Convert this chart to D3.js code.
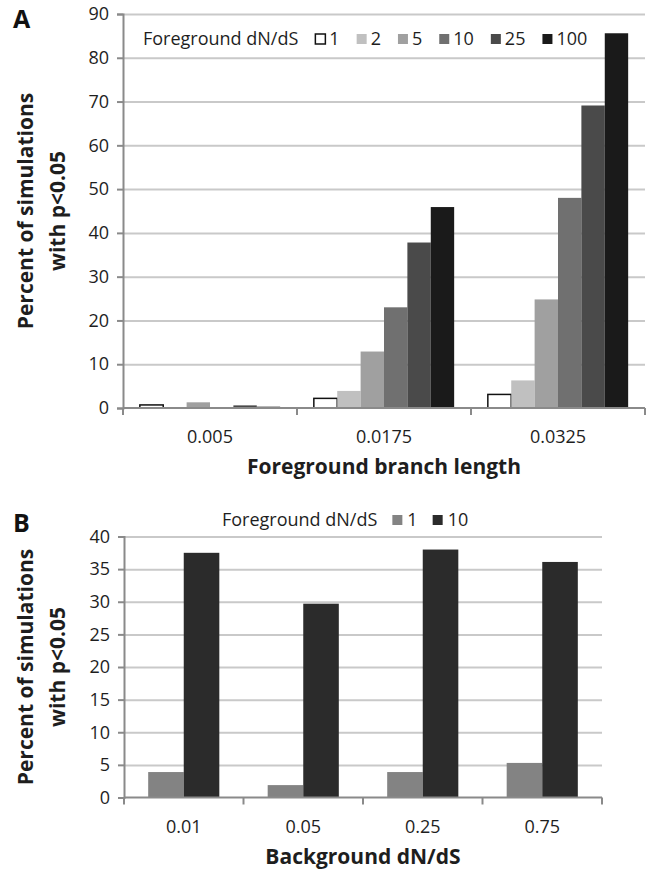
<!DOCTYPE html>
<html>
<head>
<meta charset="utf-8">
<script src="https://cdn.jsdelivr.net/npm/d3@7"></script>
<style>
  body { margin: 0; background: #fff; }
  svg { display: block; font-family: "Open Sans", sans-serif; }
</style>
</head>
<body>
<div id="chart"></div>
<script>
// panel A: foreground branch length vs % significant
var branchLengths = ['0.005', '0.0175', '0.0325'];
var fgRatiosA = ['1', '2', '5', '10', '25', '100'];
var fg1 = [0.7, 2.2, 3.1];
var fg2 = [0.1, 3.9, 6.3];
var fg5 = [1.3, 12.9, 24.8];
var fg10 = [0.2, 23.0, 48.0];
var fg25 = [0.6, 37.8, 69.1];
var fg100 = [0.3, 45.9, 85.6];
var ticksA = [0, 10, 20, 30, 40, 50, 60, 70, 80, 90];

// panel B: background dN/dS
var bgRatios = ['0.01', '0.05', '0.25', '0.75'];
var fgRatiosB = ['1', '10'];
var bgFg1 = [3.9, 1.9, 3.9, 5.3];
var bgFg10 = [37.5, 29.7, 38.0, 36.1];
var ticksB = [0, 5, 10, 15, 20, 25, 30, 35, 40];

var colorsA = ['#ffffff', '#c0c0c0', '#a0a0a0', '#707070', '#4a4a4a', '#1a1a1a'];
var colorsB = ['#838383', '#2b2b2b'];

var svg = d3.select('#chart').append('svg')
    .attr('width', 648)
    .attr('height', 870);

var textColor = '#1e1e1e';

function panel(opts) {
  var g = svg.append('g');
  var left = opts.left, right = opts.right, top = opts.top, bottom = opts.bottom;

  var y = d3.scaleLinear().domain(opts.yDomain).range([bottom, top]);
  var x0 = d3.scaleBand().domain(opts.cats).range([left, right]);
  var x1 = d3.scaleBand().domain(opts.series).range([0, x0.bandwidth()])
      .paddingInner(0).paddingOuter(opts.pad);
  var color = d3.scaleOrdinal().domain(opts.series).range(opts.colors);

  // gridlines
  g.append('g')
      .attr('transform', 'translate(' + left + ',0)')
      .call(d3.axisLeft(y).tickValues(opts.ticks.slice(1)).tickSize(-(right - left)).tickFormat(''))
      .call(function (s) {
        s.select('.domain').remove();
        s.selectAll('line').attr('stroke', '#c9c9c9').attr('stroke-width', 2);
      });

  // bars
  var rows = opts.cats.map(function (c, i) {
    return opts.series.map(function (s, j) {
      return {cat: c, key: s, value: opts.values[j][i]};
    });
  });
  g.append('g').selectAll('g')
      .data(rows)
      .join('g')
      .attr('transform', function (d) { return 'translate(' + x0(d[0].cat) + ',0)'; })
      .selectAll('rect')
      .data(function (d) { return d; })
      .join('rect')
      .attr('x', function (d) { return x1(d.key); })
      .attr('width', x1.bandwidth())
      .attr('y', function (d) { return y(d.value); })
      .attr('height', function (d) { return y(0) - y(d.value); })
      .attr('fill', function (d) { return color(d.key); })
      .attr('stroke', function (d) { return color(d.key) === '#ffffff' ? '#111' : 'none'; })
      .attr('stroke-width', 1.5);

  // y axis
  g.append('g')
      .attr('transform', 'translate(' + left + ',0)')
      .call(d3.axisLeft(y).tickValues(opts.ticks).tickSize(6).tickPadding(8))
      .call(function (s) {
        s.select('.domain').attr('stroke', '#8a8a8a').attr('stroke-width', 2);
        s.selectAll('line').attr('stroke', '#8a8a8a').attr('stroke-width', 2);
        s.selectAll('text').attr('fill', textColor).style('font-size', '18px')
            .style('font-family', '"Open Sans", sans-serif');
      });

  // x axis
  var xg = g.append('g');
  xg.append('line')
      .attr('x1', left).attr('x2', right)
      .attr('y1', y(0)).attr('y2', y(0))
      .attr('stroke', '#8a8a8a').attr('stroke-width', 2);
  var edges = opts.cats.map(function (c) { return x0(c); }).concat([x0.range()[1]]);
  xg.selectAll('line.tk')
      .data(edges)
      .join('line')
      .attr('class', 'tk')
      .attr('x1', function (d) { return d; }).attr('x2', function (d) { return d; })
      .attr('y1', y(0)).attr('y2', y(0) + 7)
      .attr('stroke', '#8a8a8a').attr('stroke-width', 2);
  xg.selectAll('text')
      .data(opts.cats)
      .join('text')
      .attr('x', function (d) { return x0(d) + x0.bandwidth() / 2; })
      .attr('y', y(0) + 35)
      .attr('text-anchor', 'middle')
      .attr('fill', textColor)
      .style('font-size', '18px')
      .text(function (d) { return d; });

  // x title
  g.append('text')
      .attr('x', (left + right) / 2)
      .attr('y', y(0) + 66)
      .attr('text-anchor', 'middle')
      .attr('fill', textColor)
      .style('font-size', '21px')
      .style('font-weight', 'bold')
      .text(opts.xTitle);

  // y title, two lines
  var cy = (top + bottom) / 2;
  var yt = g.append('text')
      .attr('transform', 'translate(0,' + cy + ') rotate(-90)')
      .attr('text-anchor', 'middle')
      .attr('fill', textColor)
      .style('font-size', '21px')
      .style('font-weight', 'bold');
  yt.append('tspan').attr('x', 0).attr('y', 33).text('Percent of simulations');
  yt.append('tspan').attr('x', 0).attr('y', 65).text('with p<0.05');

  // panel letter
  g.append('text')
      .attr('x', 13)
      .attr('y', opts.letterY)
      .attr('fill', '#111')
      .style('font-size', '25px')
      .style('font-weight', 'bold')
      .text(opts.letter);

  // legend
  var lg = g.append('g').attr('transform', 'translate(' + opts.legendX + ',' + opts.legendY + ')');
  var title = lg.append('text')
      .attr('x', 0).attr('y', 0).attr('dy', '0.35em')
      .attr('fill', textColor)
      .style('font-size', '18px')
      .text('Foreground dN/dS');
  var cx = title.node().getComputedTextLength() + opts.legendGap;
  opts.series.forEach(function (s) {
    lg.append('rect')
        .attr('x', cx).attr('y', -5)
        .attr('width', 10).attr('height', 10)
        .attr('fill', color(s))
        .attr('stroke', color(s) === '#ffffff' ? '#111' : 'none')
        .attr('stroke-width', 1.5);
    var t = lg.append('text')
        .attr('x', cx + opts.swatchGap).attr('y', 0).attr('dy', '0.35em')
        .attr('fill', textColor)
        .style('font-size', '18px')
        .text(s);
    cx += opts.swatchGap + t.node().getComputedTextLength() + opts.legendGap;
  });
}

panel({
  left: 123, right: 645, top: 14, bottom: 408,
  yDomain: [0, 90], ticks: ticksA,
  cats: branchLengths, series: fgRatiosA,
  values: [fg1, fg2, fg5, fg10, fg25, fg100],
  colors: colorsA, pad: 0.72,
  xTitle: 'Foreground branch length',
  letter: 'A', letterY: 28,
  legendX: 143, legendY: 39, legendGap: 17, swatchGap: 14
});

panel({
  left: 124, right: 602, top: 536.5, bottom: 797.5,
  yDomain: [0, 40], ticks: ticksB,
  cats: bgRatios, series: fgRatiosB,
  values: [bgFg1, bgFg10],
  colors: colorsB, pad: 0.68,
  xTitle: 'Background dN/dS',
  letter: 'B', letterY: 532,
  legendX: 222, legendY: 520, legendGap: 15, swatchGap: 15
});
</script>
</body>
</html>
